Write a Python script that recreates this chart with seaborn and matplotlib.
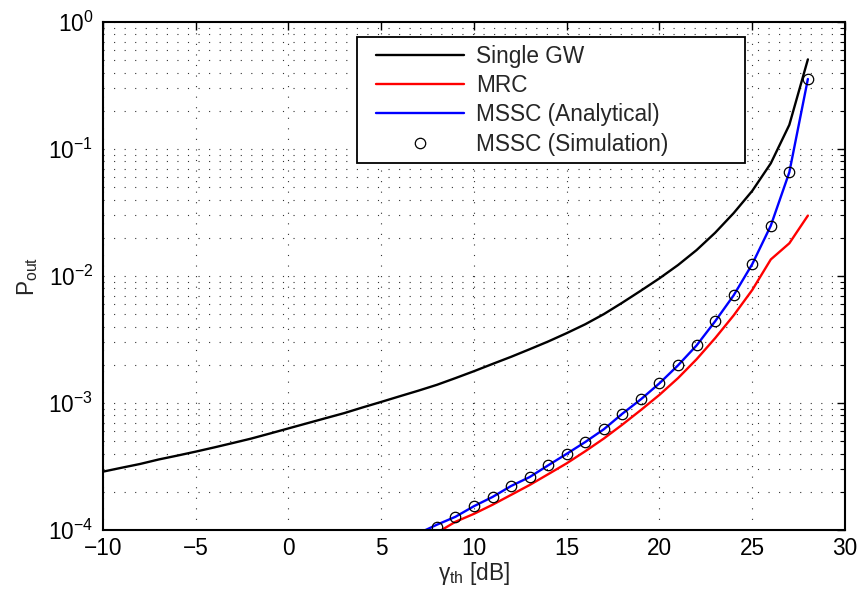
import numpy as np
import pandas as pd
import matplotlib
matplotlib.use("Agg")
import matplotlib.pyplot as plt
import seaborn as sns
from matplotlib.legend_handler import HandlerLine2D
from matplotlib.lines import Line2D

# ---------------- data ----------------
x_single = list(range(-10, 29))
p_single = [2.88e-4, 3.09e-4, 3.31e-4, 3.59e-4, 3.85e-4, 4.14e-4, 4.47e-4, 4.84e-4,
            5.25e-4, 5.75e-4, 6.31e-4, 6.92e-4, 7.59e-4, 8.32e-4, 9.23e-4, 1.02e-3,
            1.13e-3, 1.25e-3, 1.39e-3, 1.57e-3, 1.78e-3, 2.03e-3, 2.31e-3, 2.65e-3,
            3.05e-3, 3.55e-3, 4.17e-3, 5.01e-3, 6.17e-3, 7.67e-3, 9.59e-3, 1.22e-2,
            1.60e-2, 2.19e-2, 3.13e-2, 4.68e-2, 7.71e-2, 0.155, 0.508]

x_mrc = list(range(8, 29))
p_mrc = [9.5e-5, 1.16e-4, 1.34e-4, 1.58e-4, 1.89e-4, 2.26e-4, 2.75e-4, 3.35e-4,
         4.17e-4, 5.25e-4, 6.76e-4, 8.81e-4, 1.16e-3, 1.57e-3, 2.21e-3, 3.24e-3,
         4.90e-3, 7.76e-3, 1.35e-2, 1.81e-2, 2.99e-2]

x_mssc = list(range(7, 29))
p_mssc = [9.4e-5, 1.10e-4, 1.27e-4, 1.54e-4, 1.82e-4, 2.22e-4, 2.61e-4, 3.23e-4,
          3.98e-4, 4.93e-4, 6.21e-4, 8.24e-4, 1.07e-3, 1.43e-3, 1.98e-3, 2.84e-3,
          4.40e-3, 7.05e-3, 1.24e-2, 2.49e-2, 6.56e-2, 0.356]

x_sim = list(range(8, 29))
p_sim = [1.05e-4, 1.26e-4, 1.54e-4, 1.82e-4, 2.22e-4, 2.61e-4, 3.23e-4, 3.98e-4,
         4.93e-4, 6.21e-4, 8.24e-4, 1.07e-3, 1.43e-3, 1.98e-3, 2.84e-3, 4.40e-3,
         7.05e-3, 1.24e-2, 2.49e-2, 6.56e-2, 0.356]

labels = ["Single GW", "MRC", "MSSC (Analytical)", "MSSC (Simulation)"]
x_ticks = [-10, -5, 0, 5, 10, 15, 20, 25, 30]

# ---------------- style ----------------
sns.set_style("white")
plt.rcParams["font.family"] = ["Liberation Sans", "DejaVu Sans"]
plt.rcParams["mathtext.fontset"] = "custom"
plt.rcParams["mathtext.rm"] = "Liberation Sans"
plt.rcParams["mathtext.it"] = "Liberation Sans"
plt.rcParams["axes.unicode_minus"] = True

FS = 16.3

fig = plt.figure(figsize=(8.61, 5.89), dpi=100)
ax = fig.add_axes([0.1196, 0.1002, 0.9814 - 0.1196, 0.9626 - 0.1002])

df_single = pd.DataFrame({"x": x_single, "p": p_single})
df_mrc = pd.DataFrame({"x": x_mrc, "p": p_mrc})
df_mssc = pd.DataFrame({"x": x_mssc, "p": p_mssc})
df_sim = pd.DataFrame({"x": x_sim, "p": p_sim})

lw = 1.7
sns.lineplot(data=df_single, x="x", y="p", color="black", lw=lw, ax=ax, label=labels[0])
sns.lineplot(data=df_mrc, x="x", y="p", color="#ff0000", lw=lw, ax=ax, label=labels[1])
sns.lineplot(data=df_mssc, x="x", y="p", color="#0000ff", lw=lw, ax=ax, label=labels[2])
sns.lineplot(data=df_sim, x="x", y="p", color="black", ls="none", marker="o",
             markersize=7.5, markerfacecolor="none", markeredgecolor="black",
             markeredgewidth=0.9, ax=ax, label=labels[3])

ax.set_yscale("log")
ax.set_xlim(-10, 30)
ax.set_ylim(1e-4, 1)
ax.set_xticks(x_ticks)

# grid (MATLAB-like dotted)
dot = (0, (1, 8.5))
ax.grid(True, which="major", axis="both", color="#333333", linestyle=dot, linewidth=0.8)
ax.grid(True, which="minor", axis="y", color="#333333", linestyle=dot, linewidth=0.8)
ax.set_axisbelow(True)

ax.tick_params(axis="both", which="both", direction="in", top=True, right=True,
               labelsize=FS, colors="black")
ax.tick_params(axis="both", which="major", length=6, width=1.0)
ax.tick_params(axis="y", which="minor", length=3.5, width=0.8)
ax.tick_params(axis="x", which="major", pad=5)
ax.tick_params(axis="y", which="major", pad=7)
ax.xaxis.set_minor_locator(matplotlib.ticker.NullLocator())

for s in ax.spines.values():
    s.set_color("black")
    s.set_linewidth(1.5)

ax.set_xlabel(r"$\mathregular{γ_{th}}$ [dB]", fontsize=FS, labelpad=0)
ax.set_ylabel(r"$\mathregular{P_{out}}$", fontsize=FS, labelpad=6)

# legend
handles, labs = ax.get_legend_handles_labels()
xpad = 0.52
hmap = {Line2D: HandlerLine2D(xpad=xpad)}
leg = ax.legend(handles, labs, loc="upper left",
                bbox_to_anchor=(0.342, 0.970, 0.523, 0.0), mode="expand",
                fontsize=FS, frameon=True, fancybox=False, edgecolor="black",
                framealpha=1.0, borderpad=0.32, labelspacing=0.28,
                handlelength=3.9 + xpad, handletextpad=0.52, borderaxespad=0.0,
                handler_map=hmap)
leg.get_frame().set_linewidth(1.3)

fig.savefig("out.png", dpi=100)
